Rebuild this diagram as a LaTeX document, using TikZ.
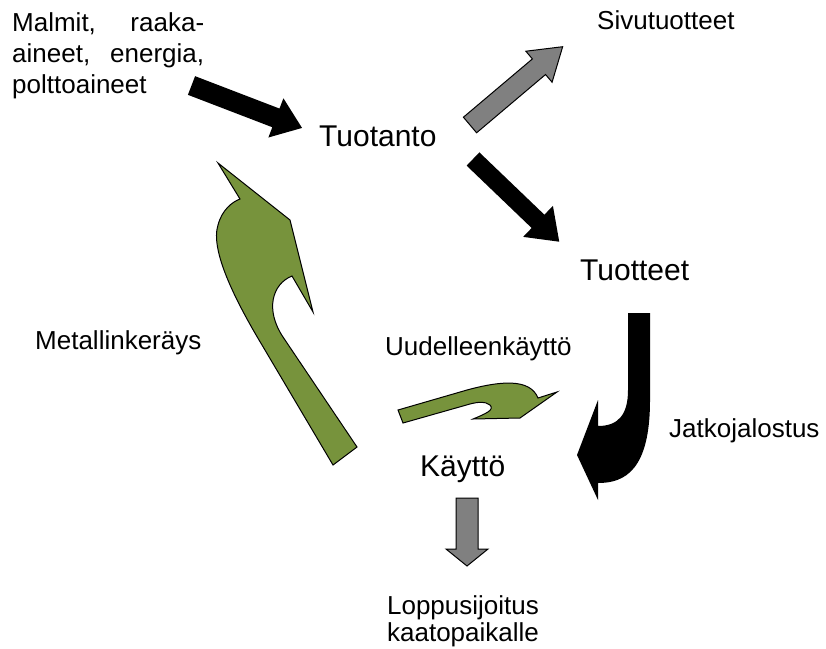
\documentclass[tikz,border=0pt]{standalone}
\usepackage{fontspec}
\setmainfont{Liberation Sans}
\definecolor{arrowgray}{RGB}{128,128,128}
\definecolor{olivegreen}{RGB}{119,147,60}
\newcommand{\blockarrow}[7]{%
  \begin{scope}[shift={#2},rotate=#3]
    \path[#1] (0,-#5) -- ({#4-#7},-#5) -- ({#4-#7},-#6) -- (#4,0) -- ({#4-#7},#6) -- ({#4-#7},#5) -- (0,#5) -- cycle;
  \end{scope}}
\tikzset{
  smalltxt/.style={font=\fontsize{26}{31}\selectfont, inner sep=0pt},
  bigtxt/.style={font=\fontsize{30}{36}\selectfont, inner sep=0pt},
  blackarr/.style={fill=black},
  grayarr/.style={fill=arrowgray, draw=black, line width=1pt},
  greenarr/.style={fill=olivegreen, draw=black, line width=1pt},
}
\begin{document}
\begin{tikzpicture}[x=1pt,y=-1pt]
\useasboundingbox (0,0) rectangle (826,648);
% texts
\node[smalltxt, anchor=north west, align=left] (malmit) at (12,12)
  {\makebox[192pt]{Malmit,\hfill raaka-}\\\makebox[192pt]{aineet,\hfill energia,}\\polttoaineet};
\node[smalltxt, anchor=base west] (sivu) at (597,29) {Sivutuotteet};
\node[bigtxt, anchor=base west] (tuotanto) at (319,146.7) {Tuotanto};
\node[bigtxt, anchor=base west] (tuotteet) at (580,280.7) {Tuotteet};
\node[bigtxt, anchor=base west] (kaytto) at (420,476) {Käyttö};
\node[smalltxt, anchor=base west] (metalli) at (35,349) {Metallinkeräys};
\node[smalltxt, anchor=base west] (uudelleen) at (385,355) {Uudelleenkäyttö};
\node[smalltxt, anchor=base west] (jatko) at (669,437) {Jatkojalostus};
\node[smalltxt, anchor=base] (loppu) at (463,614) {Loppusijoitus};
\node[smalltxt, anchor=base] (kaato) at (463,641) {kaatopaikalle};
% straight block arrows
\blockarrow{blackarr}{(191.5,85.5)}{-21}{118.4}{10}{21}{28}
\blockarrow{blackarr}{(473,159)}{-43.8}{119.5}{9.2}{21.5}{29.4}
\blockarrow{grayarr}{(470,125)}{40.2}{121.3}{10.2}{20.3}{31}
\blockarrow{grayarr}{(467,498)}{-90}{68}{11}{21}{17}
% curved black arrow (Jatkojalostus)
\fill[black] (628,313) -- (650,313) -- (650,400) .. controls (650,470) and (625,483) .. (598,483)
  -- (598,500) -- (577,455) -- (598,400) -- (598,426) .. controls (618,426) and (628,415) .. (628,390) -- cycle;
% big green arrow (Metallinkeraeys)
\path[greenarr] (333,465) -- (262,345) .. controls (235,300) and (210,250) .. (218,225)
  .. controls (222,210) and (232,202) .. (240,199) -- (218,163) -- (290,220) -- (313,312) -- (292,276)
  .. controls (272,284) and (265,310) .. (283,337) -- (357,447) -- cycle;
% small green arrow (Uudelleenkaeytto)
\path[greenarr] (398,410) -- (467,390) .. controls (500,381) and (530,378) .. (538,398) -- (557,392)
  -- (520,418) -- (473,419) .. controls (485,414) and (495,410) .. (490,405)
  .. controls (485,401) and (478,402) .. (470,404) -- (403,423) -- cycle;
\end{tikzpicture}
\end{document}
